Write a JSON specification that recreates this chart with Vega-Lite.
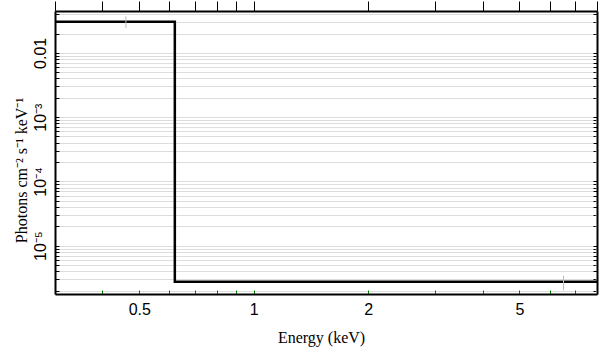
{
  "$schema": "https://vega.github.io/schema/vega-lite/v6.json",
  "width": 542,
  "height": 283,
  "autosize": {"type": "none"},
  "padding": {"left": 55, "top": 11, "right": 12, "bottom": 63},
  "background": "white",
  "config": {"view": {"stroke": null}},
  "datasets": {
    "model": [
      {"energy": 0.3, "flux": 0.0305},
      {"energy": 0.62, "flux": 0.00000275},
      {"energy": 8.0, "flux": 0.00000275}
    ],
    "points": [
      {"energy": 0.461, "lo": 0.0245, "hi": 0.0371},
      {"energy": 6.53, "lo": 0.00000201, "hi": 0.00000341}
    ]
  },
  "layer": [
    {
      "data": {"name": "model"},
      "mark": {"type": "line", "interpolate": "step-after", "color": "black", "strokeWidth": 2.5, "clip": true},
      "encoding": {
        "x": {
          "field": "energy", "type": "quantitative",
          "scale": {"type": "log", "domain": [0.3, 8.0], "nice": false, "zero": false},
          "axis": {
            "orient": "bottom", "gridOpacity": 0,
            "domain": true, "domainColor": "black", "domainWidth": 2,
            "title": "Energy (keV)",
            "titleFont": "Liberation Serif", "titleFontSize": 16, "titleFontWeight": "normal", "titleColor": "black",
            "titleX": 266, "titleY": 48, "titleBaseline": "alphabetic", "titleAlign": "center",
            "values": [0.3, 0.4, 0.5, 0.6, 0.7, 0.8, 0.9, 1, 2, 3, 4, 5, 6, 7, 8],
            "labelExpr": "datum.value == 0.5 ? '0.5' : datum.value == 1 ? '1' : datum.value == 2 ? '2' : datum.value == 5 ? '5' : ''",
            "labelFont": "Liberation Sans", "labelFontSize": 16, "labelColor": "black",
            "labelOverlap": false, "labelFlush": false,
            "labelPadding": 11.5,
            "tickSize": -4, "tickColor": "green"
          }
        },
        "y": {
          "field": "flux", "type": "quantitative",
          "scale": {"type": "log", "domain": [0.00000177, 0.0448], "nice": false, "zero": false},
          "axis": {
            "orient": "left",
            "domain": true, "domainColor": "black", "domainWidth": 2,
            "title": "Photons cm⁻² s⁻¹ keV⁻¹",
            "titleFont": "Liberation Serif", "titleFontSize": 16, "titleFontWeight": "normal", "titleColor": "black",
            "titleX": -28.5, "titleY": 159, "titleAngle": 270, "titleBaseline": "alphabetic", "titleAlign": "center",
            "values": [0.000002, 0.000003, 0.000004, 0.000005, 0.000006, 0.000007, 0.000008, 0.000009,
                       0.00001, 0.00002, 0.00003, 0.00004, 0.00005, 0.00006, 0.00007, 0.00008, 0.00009,
                       0.0001, 0.0002, 0.0003, 0.0004, 0.0005, 0.0006, 0.0007, 0.0008, 0.0009,
                       0.001, 0.002, 0.003, 0.004, 0.005, 0.006, 0.007, 0.008, 0.009,
                       0.01, 0.02, 0.03, 0.04],
            "labelExpr": "datum.value == 0.01 ? '0.01' : datum.value == 0.001 ? '10⁻³' : datum.value == 0.0001 ? '10⁻⁴' : datum.value == 0.00001 ? '10⁻⁵' : ''",
            "labelFont": "Liberation Sans", "labelFontSize": 16, "labelColor": "black",
            "labelAngle": 270, "labelAlign": "center", "labelBaseline": "alphabetic",
            "labelOverlap": false, "labelFlush": false,
            "labelPadding": 14,
            "tickSize": -4, "tickColor": "black"
          }
        }
      }
    },
    {
      "data": {"name": "points"},
      "mark": {"type": "rule", "color": "#bbbbbb", "strokeWidth": 1},
      "encoding": {
        "x": {
          "field": "energy", "type": "quantitative",
          "axis": {
            "orient": "top", "title": null, "labels": false, "gridOpacity": 0,
            "domain": true, "domainColor": "black", "domainWidth": 2,
            "values": [0.3, 0.4, 0.5, 0.6, 0.7, 0.8, 0.9, 1, 2, 3, 4, 5, 6, 7, 8],
            "tickSize": 10, "tickColor": "black"
          }
        },
        "y": {
          "field": "lo", "type": "quantitative",
          "axis": {
            "orient": "right", "title": null, "gridOpacity": 0,
            "domain": true, "domainColor": "black", "domainWidth": 2,
            "values": [0.000002, 0.000003, 0.000004, 0.000005, 0.000006, 0.000007, 0.000008, 0.000009,
                       0.00001, 0.00002, 0.00003, 0.00004, 0.00005, 0.00006, 0.00007, 0.00008, 0.00009,
                       0.0001, 0.0002, 0.0003, 0.0004, 0.0005, 0.0006, 0.0007, 0.0008, 0.0009,
                       0.001, 0.002, 0.003, 0.004, 0.005, 0.006, 0.007, 0.008, 0.009,
                       0.01, 0.02, 0.03, 0.04],
            "labelColor": "white",
            "tickSize": -4, "tickColor": "black"
          }
        },
        "y2": {"field": "hi"}
      }
    }
  ],
  "resolve": {"axis": {"x": "independent", "y": "independent"}}
}
